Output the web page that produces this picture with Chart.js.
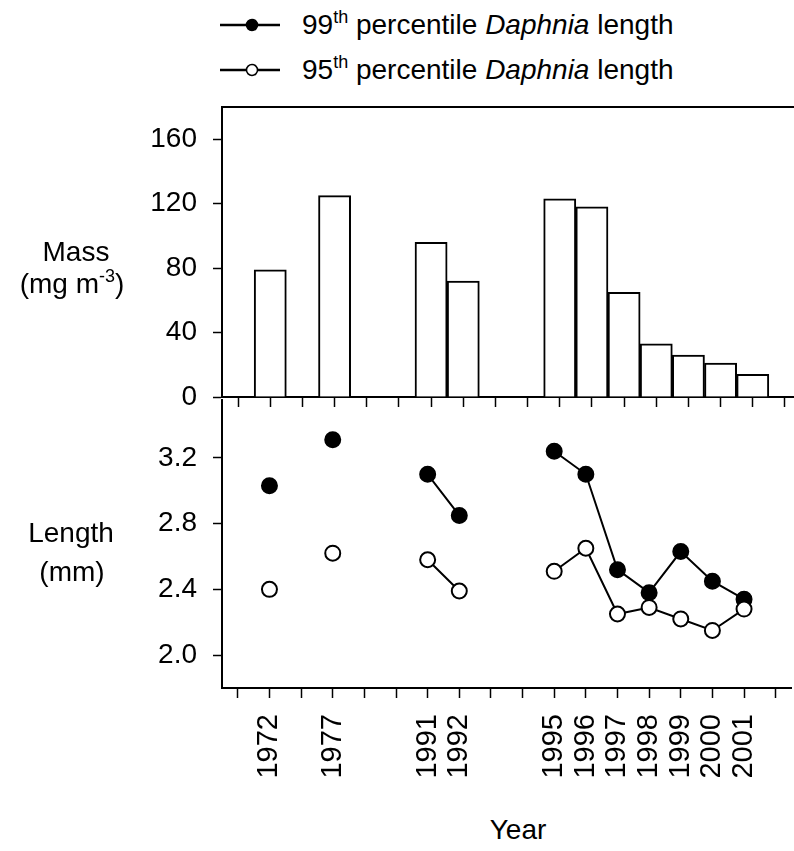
<!DOCTYPE html>
<html>
<head>
<meta charset="utf-8">
<script src="https://cdn.jsdelivr.net/npm/chart.js@4"></script>
<style>
  html,body{margin:0;padding:0;background:#fff;overflow:hidden;}
  #wrap{position:relative;width:794px;height:851px;overflow:hidden;font-family:'Liberation Sans',Arial,sans-serif;color:#000;}
  canvas{position:absolute;left:0;}
  .t{position:absolute;font-size:28px;line-height:28px;white-space:nowrap;}
  .c{text-align:center;width:200px;}
  sup{font-size:18px;line-height:0;vertical-align:0.6em;}
  svg{position:absolute;}
</style>
</head>
<body>
<div id="wrap">
  <canvas id="cMass" width="801" height="310" style="top:100px"></canvas>
  <canvas id="cLen" width="801" height="420" style="top:390px"></canvas>

  <!-- legend -->
  <svg style="left:218px;top:10px" width="66" height="30">
    <line x1="2" y1="15" x2="62" y2="15" stroke="#000" stroke-width="2.5"/>
    <circle cx="34" cy="15" r="5.5" fill="#000" stroke="#000" stroke-width="1.5"/>
  </svg>
  <div class="t" style="left:302px;top:11px">99<sup>th</sup> percentile <i>Daphnia</i> length</div>
  <svg style="left:218px;top:55px" width="66" height="30">
    <line x1="2" y1="15" x2="62" y2="15" stroke="#000" stroke-width="2.5"/>
    <circle cx="34" cy="15" r="5.5" fill="#fff" stroke="#000" stroke-width="1.5"/>
  </svg>
  <div class="t" style="left:302px;top:56px">95<sup>th</sup> percentile <i>Daphnia</i> length</div>

  <!-- axis titles -->
  <div class="t c" style="left:-24px;top:238px">Mass</div>
  <div class="t c" style="left:-28px;top:270px">(mg m<sup>-3</sup>)</div>
  <div class="t c" style="left:-29px;top:519px">Length</div>
  <div class="t c" style="left:-28px;top:558px">(mm)</div>
  <div class="t c" style="left:418px;top:816px">Year</div>
</div>
<script>
// category slots, empty strings are the gaps between sampling periods
const YEARS = ['', '1972', '', '1977', '', '', '1991', '1992', '', '', '1995', '1996', '1997', '1998', '1999', '2000', '2001', ''];
// Daphnia mass (mg m-3)
const MASS = [null, 79, null, 125, null, null, 96, 72, null, null, 123, 118, 65, 33, 26, 21, 14, null];
// length (mm)
const LEN99 = [null, 3.03, null, 3.31, null, null, 3.10, 2.85, null, null, 3.24, 3.10, 2.52, 2.38, 2.63, 2.45, 2.34, null];
const LEN95 = [null, 2.40, null, 2.62, null, null, 2.58, 2.39, null, null, 2.51, 2.65, 2.25, 2.29, 2.22, 2.15, 2.28, null];
const MASS_TICKS = [0, 40, 80, 120, 160];
const LEN_TICKS = [2.0, 2.4, 2.8, 3.2];

const INK = '#000';
const FAMILY = "'Liberation Sans', Arial, sans-serif";
Chart.defaults.color = INK;
Chart.defaults.font.family = FAMILY;

const AXIS_W = 222;

// top border of the mass panel
const topFrame = {
  id: 'topFrame',
  afterDraw(chart) {
    const a = chart.chartArea, ctx = chart.ctx;
    ctx.save();
    ctx.strokeStyle = INK; ctx.lineWidth = 2;
    ctx.beginPath(); ctx.moveTo(a.left, a.top); ctx.lineTo(a.right, a.top); ctx.stroke();
    ctx.restore();
  }
};

function xAxis(height, showLabels) {
  return {
    type: 'category', offset: true,
    grid: {display: true, offset: false, drawOnChartArea: false, drawTicks: true, tickLength: 10, tickWidth: 1.5, color: INK},
    border: {display: true, color: INK, width: 2},
    ticks: {display: showLabels, autoSkip: false, minRotation: 90, maxRotation: 90, padding: 16,
            font: {family: FAMILY, size: 29}, color: INK},
    afterFit: s => { s.height = height; s.paddingLeft = 0; s.paddingRight = 0; }
  };
}

function yAxis(min, max, vals, fmt) {
  return {
    min: min, max: max,
    afterBuildTicks: s => { s.ticks = vals.map(v => ({value: v})); },
    grid: {display: true, drawOnChartArea: false, drawTicks: true, tickLength: 9, tickWidth: 1.5, color: INK},
    border: {display: true, color: INK, width: 2},
    ticks: {padding: 16, font: {family: FAMILY, size: 28}, color: INK, callback: fmt},
    afterFit: s => { s.width = AXIS_W; s.paddingTop = 0; s.paddingBottom = 0; }
  };
}

const base = {
  responsive: false, animation: false, devicePixelRatio: 1,
  layout: {padding: {top: 7, left: 0, right: 0, bottom: 0}},
  plugins: {legend: {display: false}, tooltip: {enabled: false}}
};

new Chart(document.getElementById('cMass'), {
  type: 'bar',
  data: {labels: YEARS, datasets: [{
    data: MASS, backgroundColor: '#fff', borderColor: INK, borderWidth: 2,
    barPercentage: 1, categoryPercentage: 1
  }]},
  options: Object.assign({}, base, {
    scales: {x: xAxis(13, false), y: yAxis(0, 180, MASS_TICKS, v => String(v))}
  }),
  plugins: [topFrame]
});

new Chart(document.getElementById('cLen'), {
  type: 'line',
  data: {labels: YEARS, datasets: [
    {label: '95th percentile Daphnia length', data: LEN95, order: 0, borderColor: INK, borderWidth: 2,
     pointRadius: 7.5, pointBorderWidth: 2, pointBackgroundColor: '#fff', pointBorderColor: INK, spanGaps: false, tension: 0},
    {label: '99th percentile Daphnia length', data: LEN99, order: 1, borderColor: INK, borderWidth: 2,
     pointRadius: 7.5, pointBorderWidth: 2, pointBackgroundColor: INK, pointBorderColor: INK, spanGaps: false, tension: 0}
  ]},
  options: Object.assign({}, base, {
    scales: {x: xAxis(122, true), y: yAxis(1.8, 3.555, LEN_TICKS, v => v.toFixed(1))}
  })
});
</script>
</body>
</html>
